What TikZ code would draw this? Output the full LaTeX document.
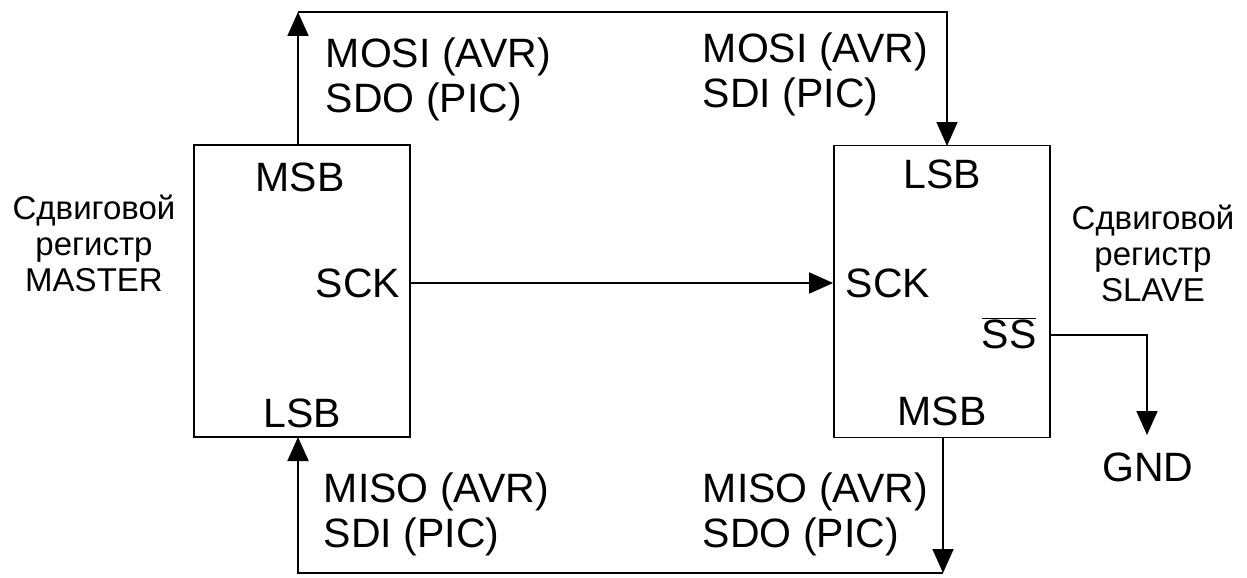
\documentclass[tikz,border=0pt]{standalone}
\usepackage{fontspec}
\setmainfont{Liberation Sans}
\usetikzlibrary{arrows.meta}
\begin{document}
\begin{tikzpicture}[x=1pt,y=-1pt,
  line width=1.8pt,
  arr/.style={-{Triangle[length=24pt,width=21pt]}},
  big/.style={font=\fontsize{41}{45}\selectfont, inner sep=0pt},
  lbl/.style={font=\fontsize{41}{45}\selectfont, inner sep=0pt, align=left, anchor=west},
  reg/.style={font=\fontsize{33}{36}\selectfont, inner sep=0pt, align=center},
  box/.style={draw, rectangle, minimum width=216pt, minimum height=292pt, inner sep=0pt}
]
\useasboundingbox (0,0) rectangle (1247,578);
% boxes
\node[box] (m) at (302,291) {};
\node[box] (s) at (942,291.5) {};
% box labels
\node[big] (mmsb) at (300,177) {MSB};
\node[big] (mlsb) at (302,413) {LSB};
\node[big, anchor=east] (msck) at (401,283) {SCK};
\node[big] (slsb) at (942,174) {LSB};
\node[big, anchor=west] (ssck) at (845,283) {SCK};
\node[big] (sss) at (1009,333) {$\overline{\hbox{SS}}$};
\node[big] (smsb) at (942,411) {MSB};
% side labels
\node[reg] (mreg) at (94,243) {Сдвиговой\\регистр\\MASTER};
\node[reg] (sreg) at (1153,253) {Сдвиговой\\регистр\\SLAVE};
% signal labels
\node[lbl] (t1) at (325,79) {MOSI (AVR)\\SDO (PIC)};
\node[lbl] (t2) at (702,74) {MOSI (AVR)\\SDI (PIC)};
\node[lbl] (b1) at (323,514) {MISO (AVR)\\SDI (PIC)};
\node[lbl] (b2) at (702,514) {MISO (AVR)\\SDO (PIC)};
\node[big] (gnd) at (1148,467) {GND};
% coordinates
\coordinate (mt) at (298,145);
\coordinate (c1) at (298,12);
\coordinate (c2) at (947,12);
\coordinate (st) at (947,146);
\coordinate (sb) at (943,437);
\coordinate (c3) at (943,573);
\coordinate (c4) at (298,573);
\coordinate (mb) at (298,437);
\coordinate (ssr) at (1050,335);
\coordinate (c5) at (1147,335);
\coordinate (g) at (1147,435);
% connectors
\draw[arr] (mt) -- (c1);
\draw[arr] (c1) -- (c2) -- (st);
\draw[arr] (sb) -- (c3);
\draw[arr] (c3) -- (c4) -- (mb);
\draw[arr] (m.east |- 0,283) -- (s.west |- 0,283);
\draw[arr] (ssr) -- (c5) -- (g);
\end{tikzpicture}
\end{document}
